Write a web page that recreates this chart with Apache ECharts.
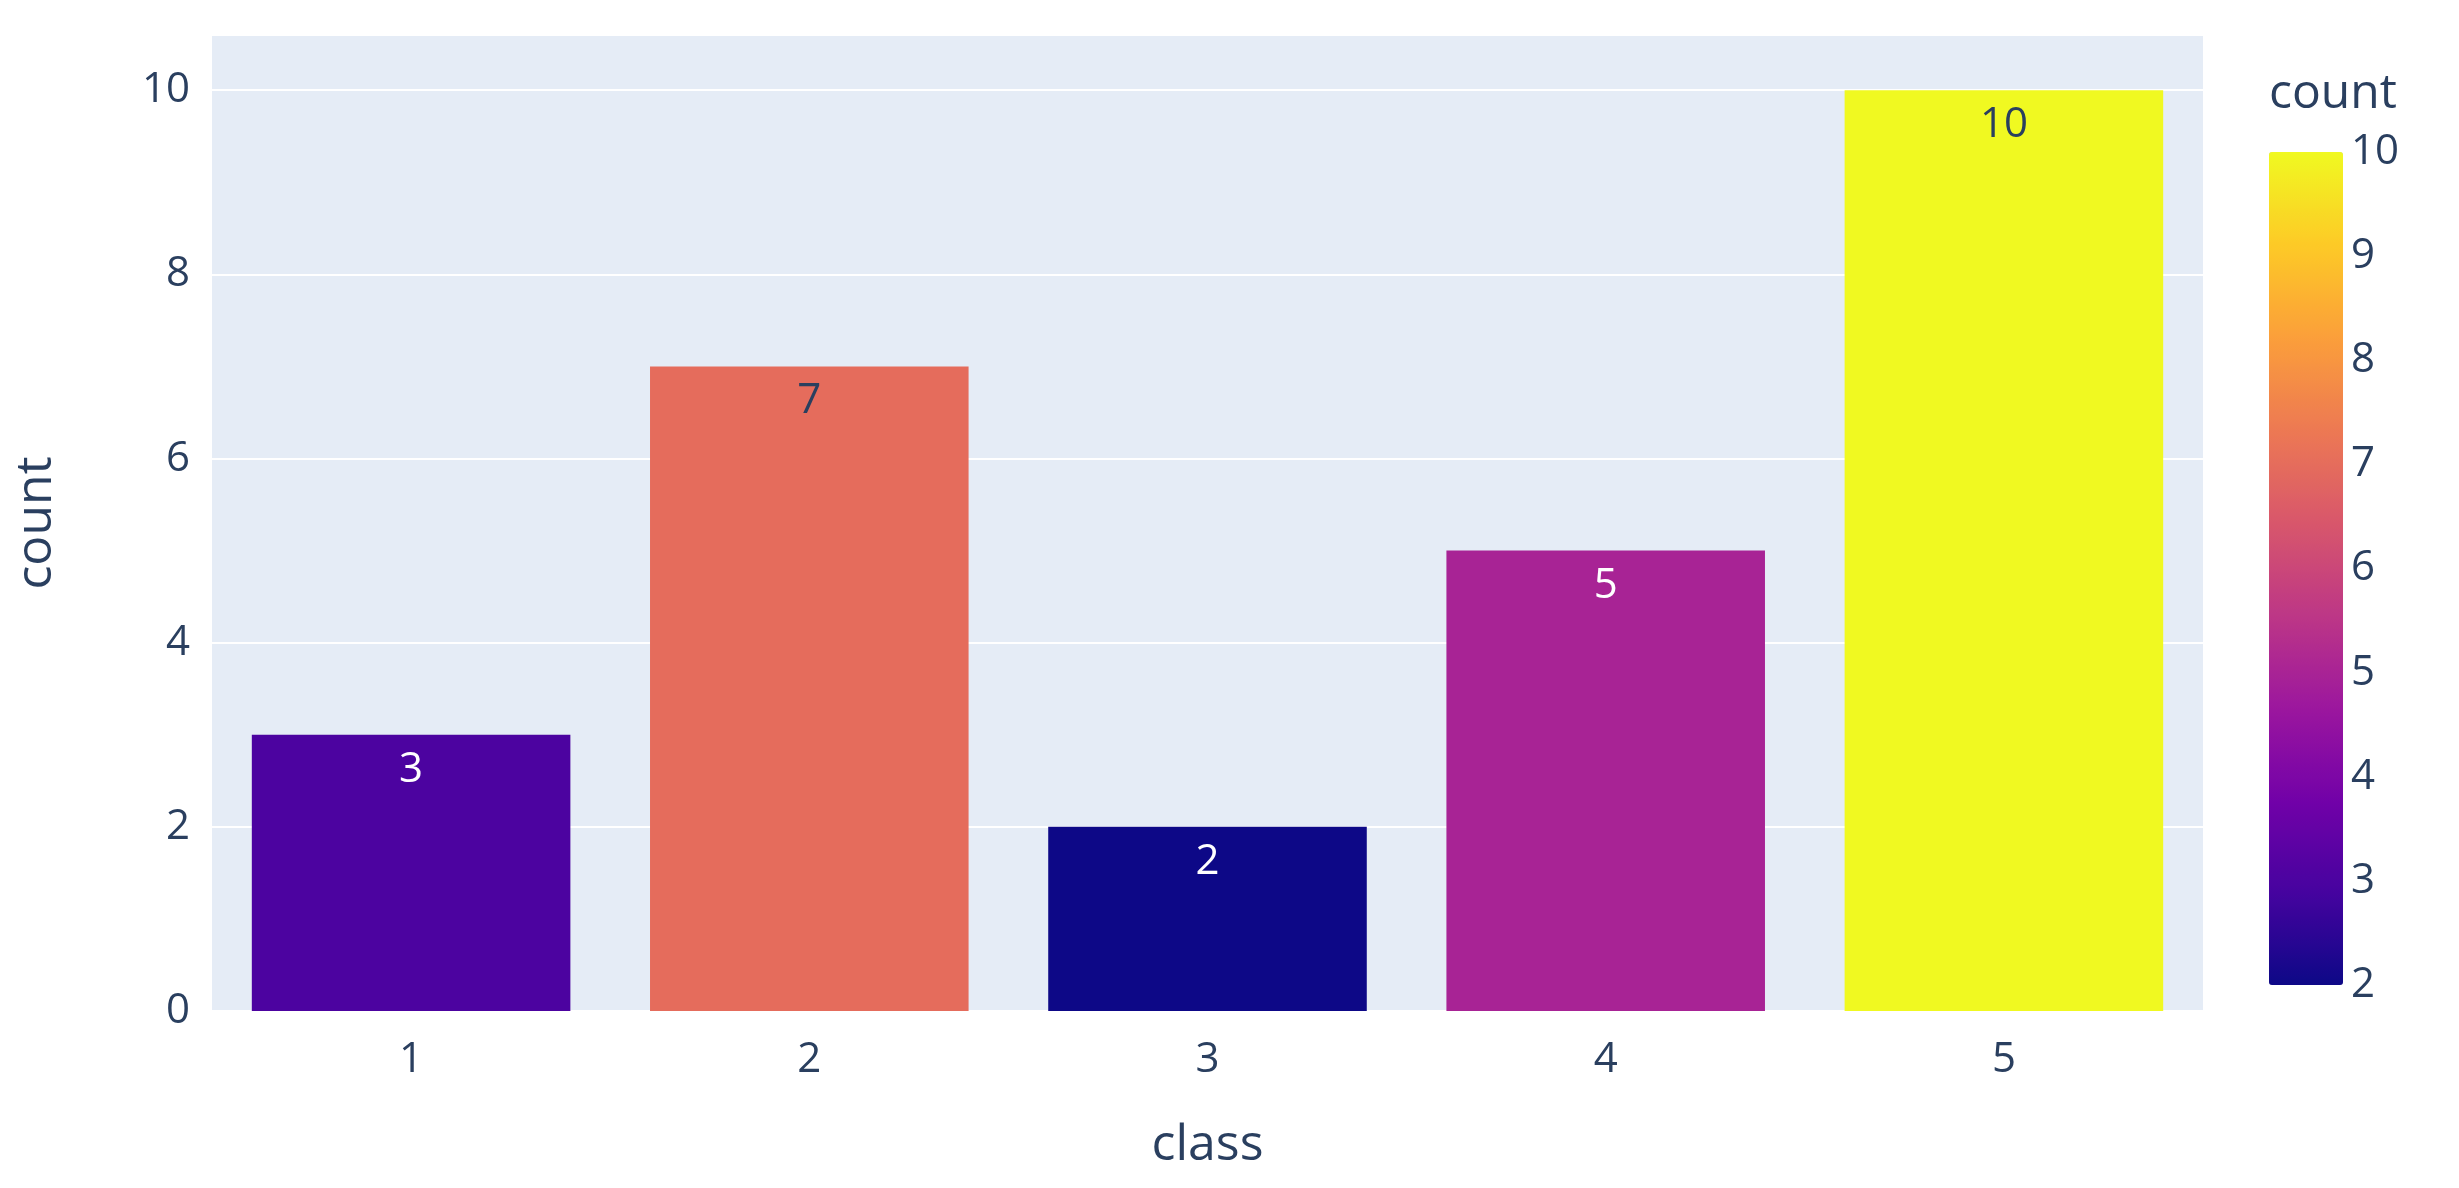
<!DOCTYPE html>
<html>
<head>
<meta charset="utf-8">
<script src="https://cdn.jsdelivr.net/npm/echarts@6/dist/echarts.min.js"></script>
<style>html,body{margin:0;padding:0;background:#fff}#chart{width:2459px;height:1188px}</style>
</head>
<body>
<div id="chart"></div>
<script>
var classes = ["1", "2", "3", "4", "5"];
var counts = [3, 7, 2, 5, 10];
var labelColors = ["#ffffff", "#2a3f5f", "#ffffff", "#ffffff", "#2a3f5f"];
var yTicks = [0, 2, 4, 6, 8, 10];
var plasma = ["#0d0887", "#46039f", "#7201a8", "#9c179e", "#bd3786", "#d8576b", "#ed7953", "#fb9f3a", "#fdca26", "#f0f921"];

var font = "'Open Sans', 'Noto Sans', sans-serif";
var ink = "#2a3f5f";

var chart = echarts.init(document.getElementById("chart"));
chart.setOption({
    animation: false,
    textStyle: { fontFamily: font },
    grid: [
        { left: 212, right: 256, top: 35, bottom: 177, backgroundColor: "#e5ecf6", show: true, borderWidth: 0 },
        { left: 2269, width: 74, top: 152, height: 833, show: false }
    ],
    xAxis: [
        {
            type: "category", data: classes, gridIndex: 0,
            name: "class", nameLocation: "middle", nameGap: 110,
            nameTextStyle: { fontSize: 50, color: ink, fontFamily: font },
            axisLine: { show: false }, axisTick: { show: false },
            axisLabel: { fontSize: 42, color: ink, margin: 28 }
        },
        { type: "value", gridIndex: 1, show: false }
    ],
    yAxis: [
        {
            type: "value", gridIndex: 0, min: 0, max: 10.6, interval: 2,
            name: "count", nameLocation: "middle", nameGap: 150,
            nameTextStyle: { fontSize: 50, color: ink, fontFamily: font },
            axisLine: { show: false }, axisTick: { show: false },
            axisLabel: { fontSize: 42, color: ink, margin: 22,
                formatter: function (v) { return yTicks.indexOf(v) >= 0 ? String(v) : ""; } },
            splitLine: { lineStyle: { color: "#ffffff", width: 2 } }
        },
        {
            type: "value", gridIndex: 1, min: 2, max: 10, interval: 1, position: "right",
            axisLine: { show: false }, axisTick: { show: false }, splitLine: { show: false },
            axisLabel: { fontSize: 42, color: ink, margin: 8 }
        }
    ],
    visualMap: {
        type: "continuous", min: 2, max: 10, seriesIndex: 0, dimension: 1,
        inRange: { color: plasma },
        left: 2269, top: 152, itemWidth: 74, itemHeight: 833,
        calculable: false, text: ["", ""], showLabel: false, padding: 0
    },
    graphic: [{
        type: "text", left: 2269, top: 70,
        style: { text: "count", fontSize: 48, fill: ink, fontFamily: font }
    }],
    series: [{
        type: "bar", xAxisIndex: 0, yAxisIndex: 0,
        barCategoryGap: "20%",
        data: counts.map(function (v, i) {
            return { value: v, label: { color: labelColors[i] } };
        }),
        label: { show: true, position: "insideTop", fontSize: 42, distance: 14 }
    }]
});
</script>
</body>
</html>
